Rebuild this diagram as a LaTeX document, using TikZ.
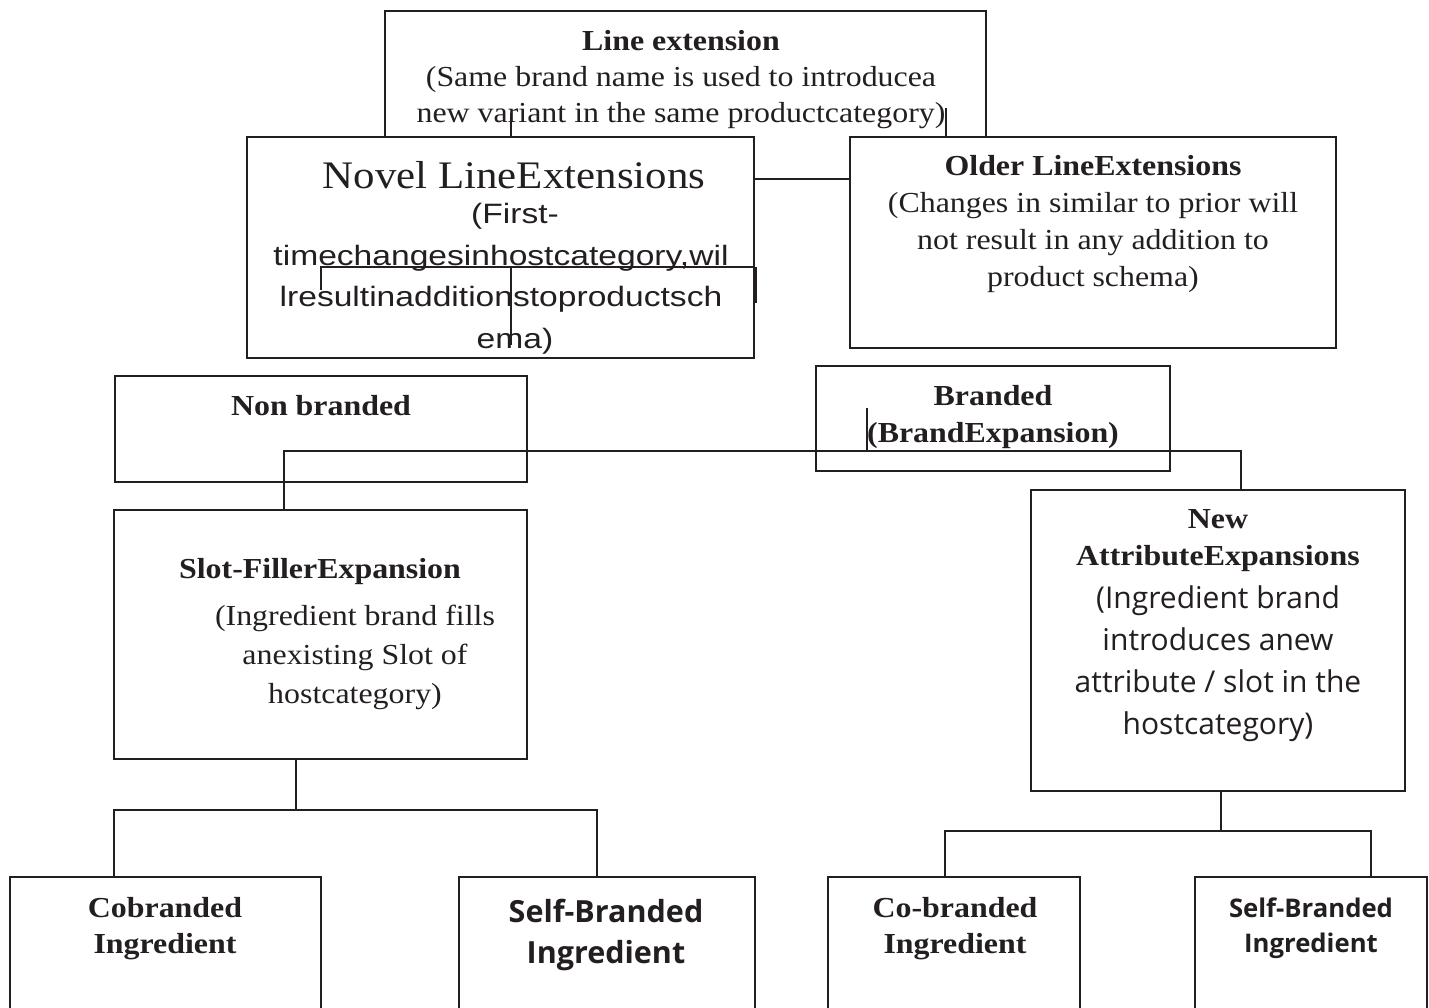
\documentclass[tikz,border=0pt]{standalone}
\usepackage{fontspec}
\setmainfont{Liberation Serif}[FakeStretch=1.1]
\newfontfamily\arialf{Liberation Sans}[FakeStretch=1.2]
\newfontfamily\segoef{Open Sans}
\definecolor{ink}{RGB}{35,31,32}
\begin{document}
\begin{tikzpicture}[x=1pt,y=-1pt,
  box/.style={draw=ink, line width=1.8pt, fill=white, inner sep=0pt, rectangle},
  txt/.style={text=ink, align=center, inner sep=0pt},
  conn/.style={draw=ink, line width=1.6pt},
  stray/.style={draw=ink, line width=1.2pt}]
\clip (0,0) rectangle (1429,1008);
\fill[white] (0,0) rectangle (1429,1008);

% top level
\node[box, minimum width=601pt, minimum height=168pt] (top) at (685.5,95) {};
\node[box, minimum width=507pt, minimum height=221pt] (novel) at (500.5,247.5) {};
\node[box, minimum width=486pt, minimum height=211pt] (older) at (1093,242.5) {};

\node[txt, font=\fontsize{29}{36}\selectfont] (topT) at (681,80)
  {\textbf{Line extension}\\(Same brand name is used to introducea\\new variant in the same productcategory)};
\node[txt, font=\fontsize{39}{45}\selectfont] (novT) at (514,175) {Novel LineExtensions};
\node[txt, font=\arialf\fontsize{28}{41.5}\selectfont] (novB) at (501,279)
  {\hspace*{28pt}(First-\\timechangesinhostcategory,wil\\lresultinadditionstoproductsch\\\hspace*{28pt}ema)};
\node[txt, font=\fontsize{29}{37}\selectfont] (oldT) at (1093,224)
  {\textbf{Older LineExtensions}\\(Changes in similar to prior will\\not result in any addition to\\product schema)};

% stray lines of the top part
\coordinate (s1a) at (511,113);
\coordinate (s2a) at (946,108);
\draw[stray] (s1a) -- (novel.north -| s1a);
\draw[stray] (s2a) -- (older.north -| s2a);
\coordinate (n1) at (321,267);
\coordinate (n4) at (321,290);
\coordinate (n2) at (511,267);
\coordinate (n3) at (511,345);
\coordinate (n5) at (756,267);
\coordinate (n6) at (756,303);
\draw[stray] (n4) -- (n1) -- (novel.east |- n1);
\draw[stray] (n2) -- (n3);
\draw[stray] (n5) -- (n6);

% connector novel - older
\coordinate (h1) at (800,179);
\draw[conn] (novel.east |- h1) -- (older.west |- h1);

% second level
\node[box, minimum width=412pt, minimum height=106pt] (nonb) at (321,429) {};
\node[box, minimum width=354pt, minimum height=105pt] (brand) at (993,418.5) {};
\node[txt, font=\fontsize{29}{36}\selectfont\bfseries] (nbT) at (321,406) {Non branded};
\node[txt, font=\fontsize{29}{37}\selectfont\bfseries] (brT) at (993,417) {Branded\\(BrandExpansion)};

% third level
\node[box, minimum width=413pt, minimum height=249pt] (slot) at (320.5,634.5) {};
\node[box, minimum width=374pt, minimum height=301pt] (attr) at (1218,640.5) {};
\node[txt, font=\fontsize{29}{36}\selectfont\bfseries] (slT) at (320,572) {Slot-FillerExpansion};
\node[txt, font=\fontsize{29}{39}\selectfont] (slB) at (355,657)
  {(Ingredient brand fills\\anexisting Slot of\\hostcategory)};
\node[txt, font=\fontsize{29}{37}\selectfont\bfseries] (atT) at (1218,541) {New\\AttributeExpansions};
\node[txt, font=\segoef\fontsize{30}{42}\selectfont] (atB) at (1218,664)
  {(Ingredient brand\\introduces anew\\attribute / slot in the\\hostcategory)};

% bottom level
\node[box, minimum width=311pt, minimum height=153pt] (cob) at (165.5,953.5) {};
\node[box, minimum width=296pt, minimum height=153pt] (selfL) at (607,953.5) {};
\node[box, minimum width=252pt, minimum height=153pt] (cob2) at (954,953.5) {};
\node[box, minimum width=232pt, minimum height=153pt] (selfR) at (1311,953.5) {};
\node[txt, font=\fontsize{29}{36}\selectfont\bfseries] (cbT) at (165,929) {Cobranded\\Ingredient};
\node[txt, font=\segoef\fontsize{30.5}{41}\selectfont\bfseries] (sfT) at (606,935) {Self-Branded\\Ingredient};
\node[txt, font=\fontsize{29}{36}\selectfont\bfseries] (cb2T) at (955,929) {Co-branded\\Ingredient};
\node[txt, font=\segoef\fontsize{25.7}{35}\selectfont\bfseries] (sf2T) at (1311,928) {Self-Branded\\Ingredient};

% connectors
\coordinate (j1) at (284,451);
\coordinate (j2) at (1241,451);
\draw[conn] (slot.north -| j1) -- (j1) -- (j2) -- (attr.north -| j2);
\coordinate (b1) at (867,408);
\draw[stray] (b1) -- (b1 |- j1);

\coordinate (t1) at (296,810);
\coordinate (l1) at (114,810);
\coordinate (l2) at (597,810);
\draw[conn] (slot.south -| t1) -- (t1);
\draw[conn] (cob.north -| l1) -- (l1) -- (l2) -- (selfL.north -| l2);

\coordinate (t2) at (1221,831);
\coordinate (r1) at (945,831);
\coordinate (r2) at (1371,831);
\draw[conn] (attr.south -| t2) -- (t2);
\draw[conn] (cob2.north -| r1) -- (r1) -- (r2) -- (selfR.north -| r2);
\end{tikzpicture}
\end{document}
